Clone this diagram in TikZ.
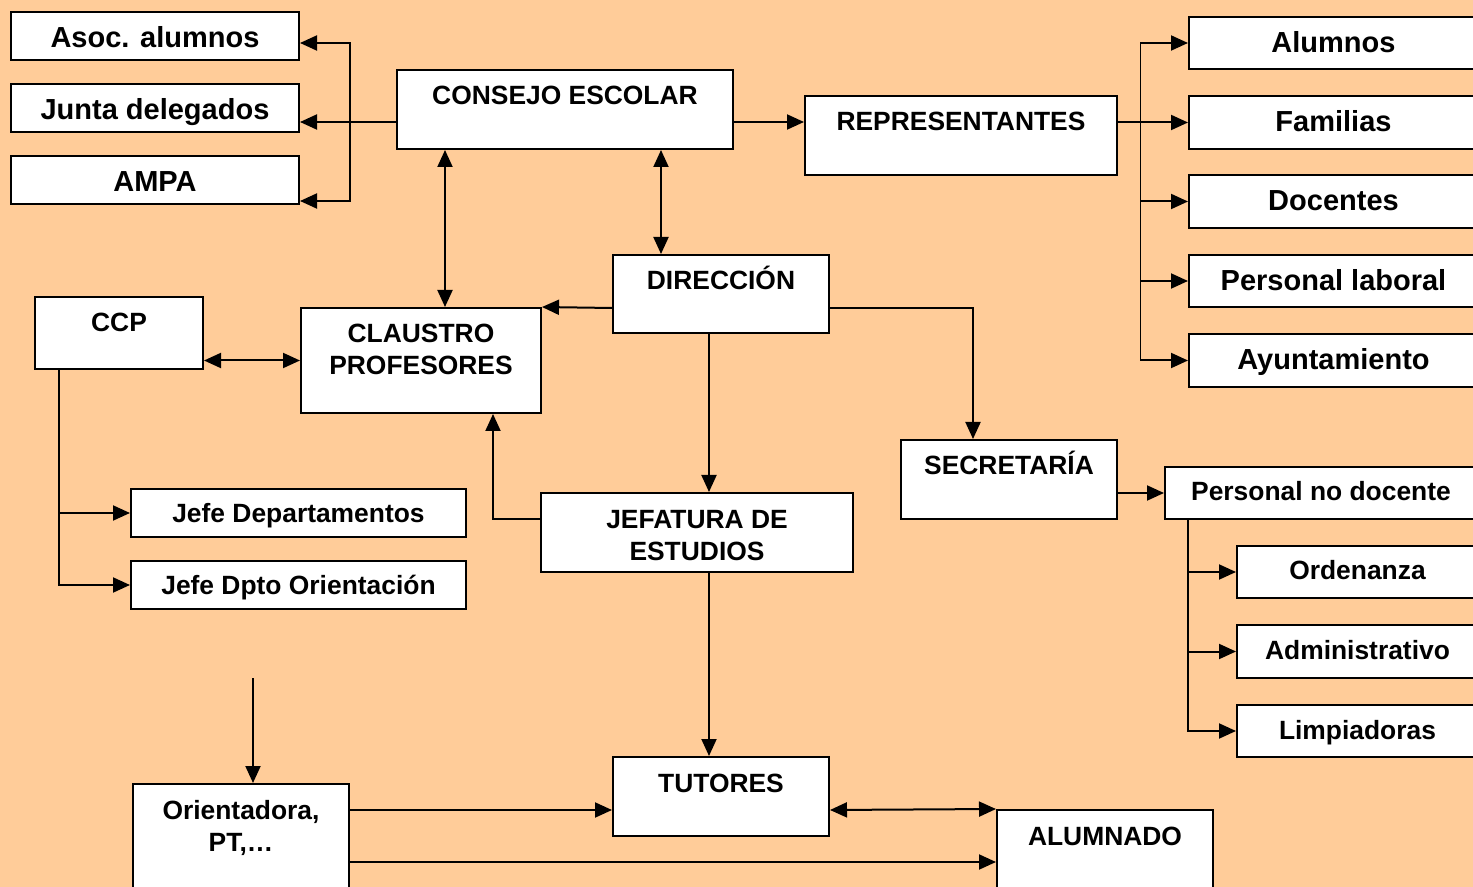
\documentclass[tikz,border=0pt]{standalone}
\usepackage{fontspec}
\setmainfont{Liberation Sans}
\usetikzlibrary{arrows.meta, fit}
\definecolor{peach}{RGB}{255,204,153}
\tikzstyle{box} = [rectangle, draw=black, line width=1pt, fill=white, inner sep=0pt]
\tikzstyle{entry} = [anchor=base, yshift=-17.5pt, inner sep=0pt, font=\bfseries\fontsize{13.2pt}{16pt}\selectfont]
\tikzstyle{bigentry} = [anchor=base, yshift=-18.5pt, inner sep=0pt, font=\bfseries\fontsize{14.5pt}{17pt}\selectfont]
\tikzstyle{boxtitle} = [anchor=base, yshift=-18pt, inner sep=0pt, align=center, font=\bfseries\fontsize{13.2pt}{16pt}\selectfont]
\tikzstyle{twoline} = [boxtitle, yshift=-16pt]
\tikzstyle{arrow} = [line width=1pt, -{Triangle[length=8.5pt, width=7.5pt]}]
\tikzstyle{dblarrow} = [line width=1pt, {Triangle[length=8.5pt, width=7.5pt]}-{Triangle[length=8.5pt, width=7.5pt]}]
\begin{document}
\begin{tikzpicture}[x=0.5pt, y=-0.5pt]
    \useasboundingbox (0,0) rectangle (1473,887);
    \clip (0,0) rectangle (1473,887);
    \fill[peach] (0,0) rectangle (1473,887);

    \node[box, fit={(11,12) (299,60)}, label={[bigentry]north:Asoc. alumnos}] (asoc) {};
    \node[box, fit={(11,84) (299,132)}, label={[bigentry]north:Junta delegados}] (junta) {};
    \node[box, fit={(11,156) (299,204)}, label={[bigentry]north:AMPA}] (ampa) {};
    \node[box, fit={(397,70) (733,149)}, label={[boxtitle]north:CONSEJO ESCOLAR}] (consejo) {};
    \node[box, fit={(805,96) (1117,175)}, label={[boxtitle]north:REPRESENTANTES}] (repr) {};
    \node[box, fit={(1189,17) (1478,69)}, label={[bigentry]north:Alumnos}] (alumnos) {};
    \node[box, fit={(1189,96) (1478,149)}, label={[bigentry]north:Familias}] (familias) {};
    \node[box, fit={(1189,175) (1478,228)}, label={[bigentry]north:Docentes}] (docentes) {};
    \node[box, fit={(1189,255) (1478,307)}, label={[bigentry]north:Personal laboral}] (laboral) {};
    \node[box, fit={(1189,334) (1478,387)}, label={[bigentry]north:Ayuntamiento}] (ayunt) {};
    \node[box, fit={(613,255) (829,333)}, label={[boxtitle]north:DIRECCIÓN}] (direccion) {};
    \node[box, fit={(35,297) (203,369)}, label={[boxtitle]north:CCP}] (ccp) {};
    \node[box, fit={(301,308) (541,413)}, label={[twoline]north:{CLAUSTRO\\PROFESORES}}] (claustro) {};
    \node[box, fit={(901,440) (1117,519)}, label={[boxtitle]north:SECRETARÍA}] (secretaria) {};
    \node[box, fit={(1165,467) (1477,519)}, label={[entry]north:Personal no docente}] (pnd) {};
    \node[box, fit={(1237,546) (1478,598)}, label={[entry]north:Ordenanza}] (orden) {};
    \node[box, fit={(1237,625) (1478,678)}, label={[entry]north:Administrativo}] (admin) {};
    \node[box, fit={(1237,705) (1478,757)}, label={[entry]north:Limpiadoras}] (limp) {};
    \node[box, fit={(131,489) (466,537)}, label={[entry]north:Jefe Departamentos}] (jdep) {};
    \node[box, fit={(131,561) (466,609)}, label={[entry]north:Jefe Dpto Orientación}] (jori) {};
    \node[box, fit={(541,493) (853,572)}, label={[twoline]north:{JEFATURA DE\\ESTUDIOS}}] (jefatura) {};
    \node[box, fit={(613,757) (829,836)}, label={[boxtitle]north:TUTORES}] (tutores) {};
    \node[box, fit={(133,784) (349,892)}, label={[twoline]north:{Orientadora,\\PT,…}}] (orient) {};
    \node[box, fit={(997,810) (1213,889)}, label={[boxtitle]north:ALUMNADO}] (alumnado) {};
    \coordinate (feed) at (253,678);

    \draw[dblarrow] ([yshift=-10.5pt]ampa.east) -| ([xshift=25pt,yshift=-3.5pt]asoc.east) -- ([yshift=-3.5pt]asoc.east);
    \draw[arrow] ([yshift=-6.25pt]consejo.west) -- ([yshift=-6.25pt]consejo.west -| junta.east);
    \draw[arrow] ([yshift=-6.25pt]consejo.east) -- ([yshift=-6.25pt]consejo.east -| repr.west);
    \draw[arrow] (repr.east |- familias.west) -- (familias.west);
    \draw ([xshift=-24pt]alumnos.west) -- ([xshift=-24pt]ayunt.west);
    \foreach \n in {alumnos, docentes, laboral, ayunt}
        \draw[arrow] ([xshift=-24pt]\n.west) -- (\n.west);
    \draw[dblarrow] ([xshift=12pt]claustro.north |- consejo.south) -- ([xshift=12pt]claustro.north);
    \draw[dblarrow] ([xshift=-30pt]direccion.north |- consejo.south) -- ([xshift=-30pt]direccion.north);
    \draw[arrow] ([yshift=-7pt]direccion.west) -- (claustro.north east);
    \draw[arrow] ([yshift=-7pt]direccion.east) -| ([xshift=-18pt]secretaria.north);
    \draw[arrow] ([xshift=-6pt]direccion.south) -- ([xshift=-6pt]direccion.south |- jefatura.north);
    \draw[arrow] ([yshift=6.75pt]jefatura.west) -| ([xshift=36pt]claustro.south);
    \draw[arrow] ([xshift=-6pt]tutores.north |- jefatura.south) -- ([xshift=-6pt]tutores.north);
    \draw[dblarrow] (ccp.east |- claustro.west) -- (claustro.west);
    \draw[arrow] ([xshift=-30pt]ccp.south) |- (jori.west);
    \draw[arrow] ([xshift=-30pt]ccp.south |- jdep.west) -- (jdep.west);
    \draw[arrow] (secretaria.east |- pnd.west) -- (pnd.west);
    \draw[arrow] ([xshift=12pt]pnd.south west) |- (limp.west);
    \foreach \n in {orden, admin}
        \draw[arrow] ([xshift=12pt]pnd.south west |- \n.west) -- (\n.west);
    \draw[arrow] (feed) -- (feed |- orient.north);
    \draw[arrow] ([yshift=-6.75pt]tutores.west -| orient.east) -- ([yshift=-6.75pt]tutores.west);
    \draw[dblarrow] ([yshift=-6.75pt]tutores.east) -- (alumnado.north west);
    \draw[arrow] ([yshift=-6.25pt]alumnado.west -| orient.east) -- ([yshift=-6.25pt]alumnado.west);
\end{tikzpicture}
\end{document}
